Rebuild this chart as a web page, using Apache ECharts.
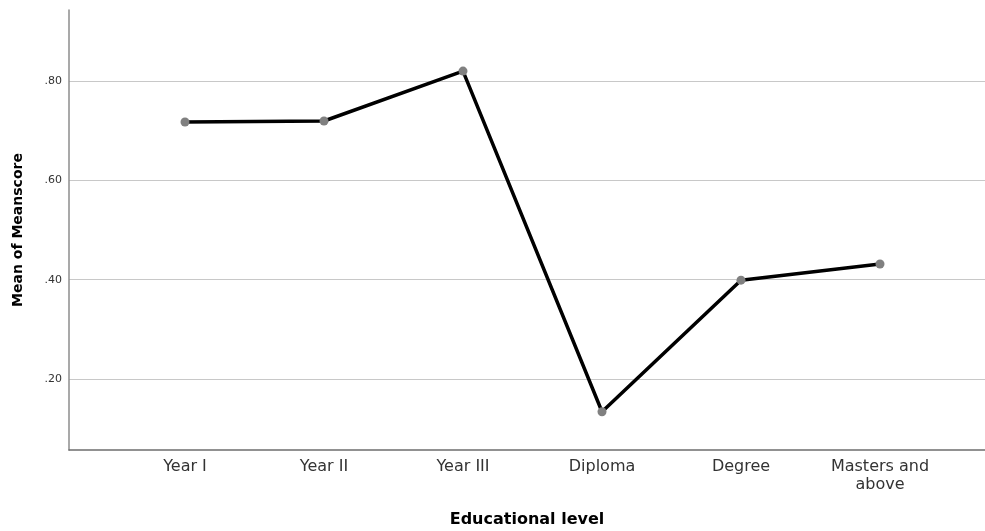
<!DOCTYPE html>
<html>
<head>
<meta charset="utf-8">
<script src="https://cdn.jsdelivr.net/npm/echarts@6/dist/echarts.min.js"></script>
<style>html,body{margin:0;padding:0;background:#fff}#c{width:985px;height:531px}</style>
</head>
<body>
<div id="c"></div>
<script>
const categories = ['Year I', 'Year II', 'Year III', 'Diploma', 'Degree', 'Masters and\nabove'];
const meanScores = [0.7175, 0.7195, 0.82, 0.134, 0.399, 0.4315];
const yMin = 0.057, yMax = 0.943;
const xTitle = 'Educational level';
const yTitle = 'Mean of Meanscore';

const chart = echarts.init(document.getElementById('c'));
const font = '"DejaVu Sans", sans-serif';
chart.setOption({
  animation: false,
  backgroundColor: '#fff',
  grid: [
    {left: 69, right: 0, top: 10, bottom: 81, outerBoundsMode: 'none', containLabel: false},
    {left: 115.5, right: 35.5, top: 10, bottom: 81, outerBoundsMode: 'none', containLabel: false}
  ],
  xAxis: [
    {gridIndex: 0, type: 'value', min: 0, max: 1,
     axisLine: {show: true, lineStyle: {color: '#6e6e6e', width: 1.5}},
     axisTick: {show: false}, axisLabel: {show: false}, splitLine: {show: false},
     name: xTitle, nameLocation: 'middle', nameGap: 62,
     nameTextStyle: {fontFamily: font, fontSize: 16, fontWeight: 'bold', color: '#000'}},
    {gridIndex: 1, type: 'category', data: categories, boundaryGap: true,
     axisLine: {show: false}, axisTick: {show: false},
     axisLabel: {fontFamily: font, fontSize: 16, color: '#333', margin: 8, lineHeight: 18, interval: 0}}
  ],
  yAxis: [
    {gridIndex: 0, type: 'value', min: yMin, max: yMax, minInterval: 0.2, maxInterval: 0.2,
     axisLine: {show: true, lineStyle: {color: '#8c8c8c', width: 1.5}},
     axisTick: {show: false},
     axisLabel: {fontFamily: font, fontSize: 11, color: '#333', margin: 7,
       showMinLabel: false, showMaxLabel: false,
       formatter: v => v.toFixed(2).replace(/^0/, '')},
     splitLine: {show: true, showMinLine: false, showMaxLine: false, lineStyle: {color: '#c8c8c8', width: 1}},
     name: yTitle, nameLocation: 'middle', nameGap: 44, nameRotate: 90,
     nameTextStyle: {fontFamily: font, fontSize: 14, fontWeight: 'bold', color: '#000'}},
    {gridIndex: 1, type: 'value', min: yMin, max: yMax, show: false}
  ],
  series: [{
    type: 'line', xAxisIndex: 1, yAxisIndex: 1, data: meanScores,
    lineStyle: {color: '#000', width: 3.5},
    symbol: 'circle', symbolSize: 9,
    itemStyle: {color: '#808080'},
    z: 3
  }]
});
</script>
</body>
</html>
